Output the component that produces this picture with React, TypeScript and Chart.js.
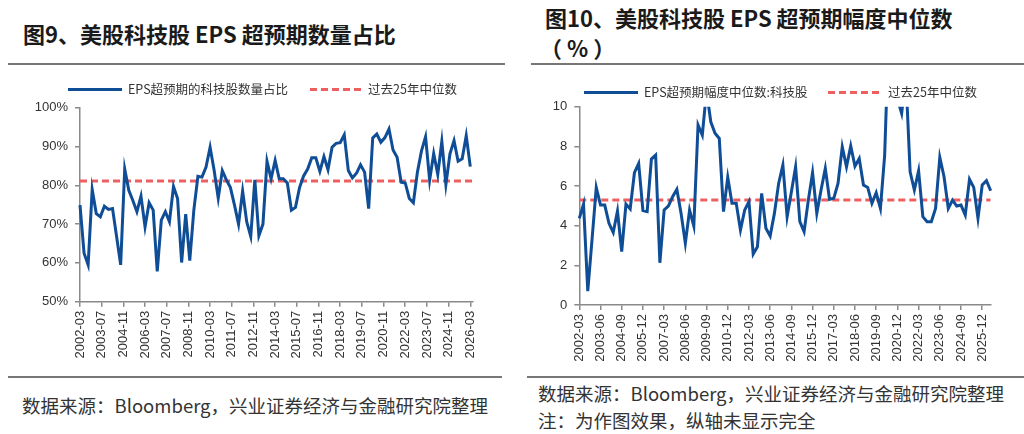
import React, { useEffect, useRef } from 'react';
import { Chart, registerables } from 'chart.js';

Chart.register(...registerables);

// ---------- data ----------
// Left: share of US tech stocks beating EPS estimates (%), quarterly 2002-03 .. 2026-03
const leftShare: number[] = [
  74.9, 62.5, 59.5, 78.9, 72.7, 71.9, 74.6, 73.8, 74.0, 66.8,
  59.5, 84.2, 78.7, 76.1, 73.2, 77.2, 69.3, 75.5, 73.6, 57.8,
  71.0, 73.2, 70.6, 79.7, 76.6, 60.1, 72.6, 60.6, 73.6, 82.3,
  82.1, 84.7, 89.8, 83.8, 76.7, 83.8, 81.4, 79.4, 74.9, 70.0,
  78.5, 70.6, 66.8, 81.4, 67.0, 70.0, 86.2, 81.7, 86.4, 81.7,
  81.7, 80.6, 73.6, 74.3, 79.4, 82.4, 84.2, 87.1, 87.1, 83.6,
  87.4, 84.0, 89.8, 90.8, 91.0, 93.0, 83.8, 81.9, 83.1, 85.3,
  83.4, 74.0, 92.2, 93.2, 91.1, 92.3, 94.5, 89.1, 87.2, 80.8,
  80.6, 76.6, 75.5, 83.4, 88.9, 92.5, 81.3, 88.2, 82.8, 91.3,
  80.2, 88.1, 91.5, 86.2, 86.8, 92.8, 84.8,
];
const leftMedian = 81.1;
const leftTickLabels: string[] = [
  '2002-03', '2003-07', '2004-11', '2006-03', '2007-07', '2008-11', '2010-03',
  '2011-07', '2012-11', '2014-03', '2015-07', '2016-11', '2018-03', '2019-07',
  '2020-11', '2022-03', '2023-07', '2024-11', '2026-03',
];
const leftYTicks: number[] = [50, 60, 70, 80, 90, 100];

// Right: median EPS surprise of US tech stocks (%), quarterly from 2002-03
const rightSurprise: number[] = [
  4.37, 5.09, 0.7, 3.3, 5.93, 5.04, 5.04, 4.12, 3.66, 4.74,
  2.69, 5.09, 4.84, 6.67, 7.14, 4.76, 4.71, 7.36, 7.56, 2.13,
  4.79, 4.99, 5.46, 5.83, 4.62, 3.11, 4.79, 3.98, 9.08, 8.57,
  10.8, 9.24, 8.66, 8.4, 4.71, 6.44, 5.13, 5.13, 3.78, 4.79,
  5.21, 2.57, 2.94, 5.63, 3.87, 3.48, 4.62, 6.13, 7.06, 4.45,
  5.7, 6.97, 4.2, 3.7, 5.29, 6.67, 4.62, 5.8, 6.89, 5.33,
  5.38, 6.13, 7.98, 6.97, 8.02, 7.0, 7.39, 6.05, 5.93, 5.13,
  5.66, 4.87, 7.56, 14.0, 13.0, 10.4, 9.66, 11.5, 6.72, 5.8,
  6.77, 4.45, 4.2, 4.2, 4.87, 7.45, 6.47, 4.87, 5.29, 4.99,
  5.04, 4.54, 6.34, 5.93, 4.37, 6.05, 6.27, 5.76,
];
const rightMedian = 5.29;
const rightTickLabels: string[] = [
  '2002-03', '2003-06', '2004-09', '2005-12', '2007-03', '2008-06', '2009-09',
  '2010-12', '2012-03', '2013-06', '2014-09', '2015-12', '2017-03', '2018-06',
  '2019-09', '2020-12', '2022-03', '2023-06', '2024-09', '2025-12',
];
const rightYTicks: number[] = [0, 2, 4, 6, 8, 10];

const leftSeriesName = 'EPS超预期的科技股数量占比';
const rightSeriesName = 'EPS超预期幅度中位数:科技股';
const medianName = '过去25年中位数';

// ---------- styles ----------
const BLUE = '#0f4d96';
const RED = '#ee5f5f';
const AXIS = '#8a8a8a';
const TICK_TXT = '#333333';
const CJK = '"Noto Sans CJK SC", "Noto Sans", sans-serif';
const LATIN = '"Liberation Sans", Arial, sans-serif';

interface ChartSpec {
  values: number[];
  median: number;
  maxX: number;
  step: number;
  tickLabels: string[];
  yTicks: number[];
  yFmt: (v: number) => string;
  yWidth: number;
  xHeight: number;
  padTop: number;
  padRight: number;
  width: number;
  height: number;
}

function buildConfig(s: ChartSpec): any {
  const pts = s.values.map((v, i) => ({ x: i * 3, y: v }));
  const med = [
    { x: 0, y: s.median },
    { x: s.maxX, y: s.median },
  ];
  const yMin = s.yTicks[0];
  const yMax = s.yTicks[s.yTicks.length - 1];
  const yStep = s.yTicks[1] - s.yTicks[0];
  return {
    type: 'line',
    data: {
      datasets: [
        {
          data: pts,
          borderColor: BLUE,
          borderWidth: 3,
          pointRadius: 0,
          tension: 0,
          fill: false,
          clip: { left: 4, right: 4, top: 0, bottom: 4 },
        },
        {
          data: med,
          borderColor: RED,
          borderWidth: 3,
          borderDash: [7, 4],
          pointRadius: 0,
          fill: false,
        },
      ],
    },
    options: {
      responsive: false,
      animation: false,
      events: [],
      layout: { padding: { top: s.padTop, right: s.padRight, left: 0, bottom: 0 } },
      plugins: { legend: { display: false }, tooltip: { enabled: false } },
      scales: {
        x: {
          type: 'linear',
          min: 0,
          max: s.maxX,
          afterBuildTicks: (axis: any) => {
            axis.ticks = s.tickLabels.map((_, i) => ({ value: i * s.step }));
          },
          afterFit: (axis: any) => {
            axis.height = s.xHeight;
          },
          ticks: {
            autoSkip: false,
            minRotation: 90,
            maxRotation: 90,
            padding: 4,
            color: TICK_TXT,
            font: { family: LATIN, size: 13 },
            callback: (v: number) => s.tickLabels[Math.round(v / s.step)] ?? '',
          },
          grid: {
            display: true,
            drawOnChartArea: false,
            drawTicks: true,
            tickLength: 5,
            color: AXIS,
            lineWidth: 1.5,
          },
          border: { display: true, color: AXIS, width: 1.5 },
        },
        y: {
          type: 'linear',
          min: yMin,
          max: yMax,
          afterFit: (axis: any) => {
            axis.width = s.yWidth;
          },
          ticks: {
            stepSize: yStep,
            padding: 7,
            color: TICK_TXT,
            font: { family: LATIN, size: 13 },
            callback: (v: number) => s.yFmt(v),
          },
          grid: {
            display: true,
            drawOnChartArea: false,
            drawTicks: true,
            tickLength: 5,
            color: AXIS,
            lineWidth: 1.5,
          },
          border: { display: true, color: AXIS, width: 1.5 },
        },
      },
    },
  };
}

function LineChart({ spec, left, top }: { spec: ChartSpec; left: number; top: number }) {
  const ref = useRef<HTMLCanvasElement | null>(null);
  useEffect(() => {
    if (!ref.current) return;
    const chart = new Chart(ref.current, buildConfig(spec));
    return () => chart.destroy();
  }, []);
  return (
    <canvas
      ref={ref}
      width={spec.width}
      height={spec.height}
      style={{ position: 'absolute', left, top, width: spec.width, height: spec.height }}
    />
  );
}

function LegendLine({ x, y, color, dashed }: { x: number; y: number; color: string; dashed?: boolean }) {
  return (
    <div
      style={{
        position: 'absolute',
        left: x,
        top: y - 1.5,
        width: 54,
        height: 3,
        background: dashed
          ? `repeating-linear-gradient(to right, ${color} 0px, ${color} 7px, transparent 7px, transparent 11px)`
          : color,
      }}
    />
  );
}

function Txt({ x, y, size, children, bold, color }: any) {
  return (
    <div
      style={{
        position: 'absolute',
        left: x,
        top: y - size / 2,
        fontSize: size,
        lineHeight: `${size}px`,
        fontFamily: CJK,
        fontWeight: bold ? 700 : 400,
        color: color || '#333',
        whiteSpace: 'nowrap',
      }}
    >
      {children}
    </div>
  );
}

function Rule({ x1, x2, y }: { x1: number; x2: number; y: number }) {
  return (
    <div style={{ position: 'absolute', left: x1, top: y - 1, width: x2 - x1, height: 2, background: '#777' }} />
  );
}

const leftSpec: ChartSpec = {
  values: leftShare,
  median: leftMedian,
  maxX: 290,
  step: 16,
  tickLabels: leftTickLabels,
  yTicks: leftYTicks,
  yFmt: (v) => `${v}%`,
  yWidth: 72,
  xHeight: 68.3,
  padTop: 37.7,
  padRight: 35,
  width: 500,
  height: 300,
};

const rightSpec: ChartSpec = {
  values: rightSurprise,
  median: rightMedian,
  maxX: 291,
  step: 15,
  tickLabels: rightTickLabels,
  yTicks: rightYTicks,
  yFmt: (v) => `${v}`,
  yWidth: 51.3,
  xHeight: 65,
  padTop: 36.7,
  padRight: 27.3,
  width: 490,
  height: 300,
};

export default function App() {
  useEffect(() => {
    document.body.style.margin = '0';
    document.body.style.background = '#ffffff';
  }, []);
  return (
    <div style={{ position: 'relative', width: 1024, height: 434, overflow: 'hidden', background: '#fff' }}>
      {/* titles */}
      <Txt x={23} y={33} size={22} bold color="#1a1a1a">图9、美股科技股 EPS 超预期数量占比</Txt>
      <Txt x={545} y={17} size={22} bold color="#1a1a1a">图10、美股科技股 EPS 超预期幅度中位数</Txt>
      <Txt x={540} y={47} size={22} bold color="#1a1a1a">（ % ）</Txt>
      <Rule x1={8} x2={505} y={63.5} />
      <Rule x1={531} x2={1024} y={63.5} />

      {/* charts */}
      <LineChart spec={leftSpec} left={8} top={70} />
      <LineChart spec={rightSpec} left={528} top={70} />

      {/* legends */}
      <LegendLine x={68} y={89} color={BLUE} />
      <Txt x={128} y={89} size={12.5}>{leftSeriesName}</Txt>
      <LegendLine x={310} y={89} color={RED} dashed />
      <Txt x={368} y={89} size={12.5}>{medianName}</Txt>

      <LegendLine x={584} y={92} color={BLUE} />
      <Txt x={644} y={92} size={12.5}>{rightSeriesName}</Txt>
      <LegendLine x={828} y={92} color={RED} dashed />
      <Txt x={888} y={92} size={12.5}>{medianName}</Txt>

      {/* footers */}
      <Rule x1={8} x2={502} y={377} />
      <Rule x1={527} x2={1024} y={377} />
      <Txt x={22} y={405} size={18.5}>数据来源：Bloomberg，兴业证券经济与金融研究院整理</Txt>
      <Txt x={538} y={393} size={18.5}>数据来源：Bloomberg，兴业证券经济与金融研究院整理</Txt>
      <Txt x={538} y={420} size={18.5}>注：为作图效果，纵轴未显示完全</Txt>
    </div>
  );
}
